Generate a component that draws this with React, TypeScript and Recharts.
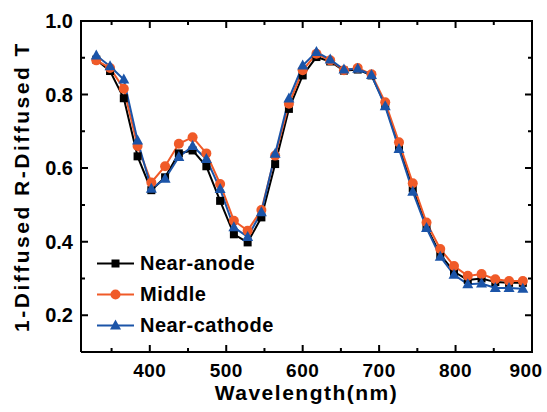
import React from 'react';
import { LineChart, Line, XAxis, YAxis } from 'recharts';

const wavelengths = [330, 348, 366, 384, 402, 420, 438, 456, 474, 492, 510, 528, 546, 564, 582, 600, 618, 636, 654, 672, 690, 708, 726, 744, 762, 780, 798, 816, 834, 852, 870, 888];
const nearAnode = [0.895, 0.864, 0.79, 0.632, 0.54, 0.575, 0.64, 0.648, 0.605, 0.511, 0.42, 0.398, 0.466, 0.611, 0.761, 0.852, 0.902, 0.89, 0.865, 0.868, 0.852, 0.772, 0.658, 0.545, 0.44, 0.365, 0.318, 0.296, 0.3, 0.29, 0.288, 0.288];
const middle = [0.893, 0.872, 0.816, 0.66, 0.561, 0.605, 0.666, 0.684, 0.64, 0.557, 0.457, 0.43, 0.486, 0.634, 0.775, 0.866, 0.911, 0.893, 0.866, 0.872, 0.855, 0.779, 0.67, 0.559, 0.452, 0.38, 0.334, 0.307, 0.312, 0.298, 0.293, 0.293];
const nearCathode = [0.906, 0.877, 0.841, 0.675, 0.544, 0.571, 0.63, 0.66, 0.625, 0.543, 0.439, 0.413, 0.48, 0.639, 0.789, 0.879, 0.916, 0.895, 0.868, 0.87, 0.853, 0.768, 0.652, 0.536, 0.437, 0.359, 0.31, 0.284, 0.286, 0.274, 0.274, 0.272];

const xTicks = [350, 400, 450, 500, 550, 600, 650, 700, 750, 800, 850, 900];
const yTicks = [0.2, 0.3, 0.4, 0.5, 0.6, 0.7, 0.8, 0.9, 1.0];
const X_DOMAIN = [310, 900];
const Y_DOMAIN = [0.1, 1.0];

const BLACK = '#000000';
const RED = '#F05A28';
const BLUE = '#1B54A8';
const FONT = "'Liberation Sans', Arial, sans-serif";

const W = 547;
const H = 412;
const margin = { top: 21, right: 15, bottom: 59, left: 80 };
// plot box size, used to draw the top/right frame and mirrored ticks from the axis ticks
const PLOT_W = W - margin.left - margin.right - 1;
const PLOT_H = H - margin.top - margin.bottom - 1;

const data = wavelengths.map((w, i) => ({ w, anode: nearAnode[i], middle: middle[i], cathode: nearCathode[i] }));

const series = [
  { key: 'anode', name: 'Near-anode', color: BLACK, shape: 'square' },
  { key: 'middle', name: 'Middle', color: RED, shape: 'circle' },
  { key: 'cathode', name: 'Near-cathode', color: BLUE, shape: 'triangle' },
];

function Marker({ cx, cy, shape, color }: any) {
  if (cx == null || cy == null) return null;
  if (shape === 'square') return <rect x={cx - 4} y={cy - 4} width={8} height={8} fill={color} />;
  if (shape === 'circle') return <circle cx={cx} cy={cy} r={5} fill={color} />;
  return <polygon points={`${cx},${cy - 6} ${cx - 5.5},${cy + 4} ${cx + 5.5},${cy + 4}`} fill={color} />;
}

const isMajorX = (v: number) => v % 100 === 0;
const isMajorY = (v: number) => Math.round(v * 10) % 2 === 0;

function XTick({ x, y, payload }: any) {
  const major = isMajorX(payload.value);
  const len = major ? 7 : 4;
  const top = y - PLOT_H;
  const last = payload.value === X_DOMAIN[1];
  return (
    <g>
      <path d={`M${x},${y}V${y - len}M${x},${top}V${top + len}`} stroke="#000" strokeWidth={2} fill="none" />
      {/* right frame edge */}
      {last && <path d={`M${x},${y + 1}V${top - 1}`} stroke="#000" strokeWidth={2} fill="none" />}
      {major && (
        <text x={last ? x - 6 : x} y={y + 25} textAnchor="middle" fontFamily={FONT} fontWeight="bold" fontSize={19} letterSpacing={0.5} fill="#000">
          {payload.value}
        </text>
      )}
    </g>
  );
}

function YTick({ x, y, payload }: any) {
  const major = isMajorY(payload.value);
  const len = major ? 7 : 4;
  const right = x + PLOT_W;
  const last = payload.value === Y_DOMAIN[1];
  return (
    <g>
      <path d={`M${x},${y}H${x + len}M${right},${y}H${right - len}`} stroke="#000" strokeWidth={2} fill="none" />
      {/* top frame edge */}
      {last && <path d={`M${x - 1},${y}H${right + 1}`} stroke="#000" strokeWidth={2} fill="none" />}
      {major && (
        <text x={x - 8} y={y} dy="0.36em" textAnchor="end" fontFamily={FONT} fontWeight="bold" fontSize={20} fill="#000">
          {payload.value.toFixed(1)}
        </text>
      )}
    </g>
  );
}

function XLabel({ viewBox }: any) {
  const { x, y, width } = viewBox;
  return (
    <text x={x + width / 2} y={y + 48} textAnchor="middle" fontFamily={FONT} fontWeight="bold" fontSize={21} letterSpacing={1.5} fill="#000">
      Wavelength(nm)
    </text>
  );
}

function YLabel({ viewBox }: any) {
  const { x, y, height } = viewBox;
  const cx = x - 59;
  const cy = y + height / 2;
  return (
    <text x={cx} y={cy} dy="0.36em" transform={`rotate(-90 ${cx} ${cy})`} textAnchor="middle" fontFamily={FONT} fontWeight="bold" fontSize={21} letterSpacing={2.5} fill="#000">
      1-Diffused R-Diffused T
    </text>
  );
}

function LegendBox() {
  return (
    <div style={{ position: 'absolute', left: 97, top: 248, fontFamily: FONT, fontWeight: 'bold', fontSize: 20, color: '#000' }}>
      {series.map((s) => (
        <div key={s.key} style={{ display: 'flex', alignItems: 'center', height: 31 }}>
          <svg width={38} height={31} style={{ display: 'block' }}>
            <line x1={0} x2={37} y1={15.5} y2={15.5} stroke={s.color} strokeWidth={2} />
            <Marker cx={18.5} cy={15.5} shape={s.shape} color={s.color} />
          </svg>
          <span style={{ marginLeft: 5, letterSpacing: 0.5 }}>{s.name}</span>
        </div>
      ))}
    </div>
  );
}

const axisLine = { stroke: '#000', strokeWidth: 2 };

export default function App() {
  return (
    <div style={{ position: 'absolute', left: 0, top: 0, width: W, height: H, background: '#fff' }}>
      <LineChart width={W} height={H} data={data} margin={margin}>
        <XAxis
          dataKey="w"
          type="number"
          domain={X_DOMAIN}
          ticks={xTicks}
          interval={0}
          height={1}
          tickSize={0}
          tickMargin={0}
          tickLine={false}
          axisLine={axisLine}
          tick={<XTick />}
          allowDataOverflow
          label={<XLabel />}
        />
        <YAxis
          type="number"
          domain={Y_DOMAIN}
          ticks={yTicks}
          interval={0}
          width={1}
          tickSize={0}
          tickMargin={0}
          tickLine={false}
          axisLine={axisLine}
          tick={<YTick />}
          allowDataOverflow
          label={<YLabel />}
        />
        {series.map((s) => (
          <Line
            key={s.key}
            dataKey={s.key}
            name={s.name}
            stroke={s.color}
            strokeWidth={2}
            isAnimationActive={false}
            dot={(p: any) => <Marker key={`${s.key}-${p.index}`} cx={p.cx} cy={p.cy} shape={s.shape} color={s.color} />}
            activeDot={false}
          />
        ))}
      </LineChart>
      <LegendBox />
    </div>
  );
}
